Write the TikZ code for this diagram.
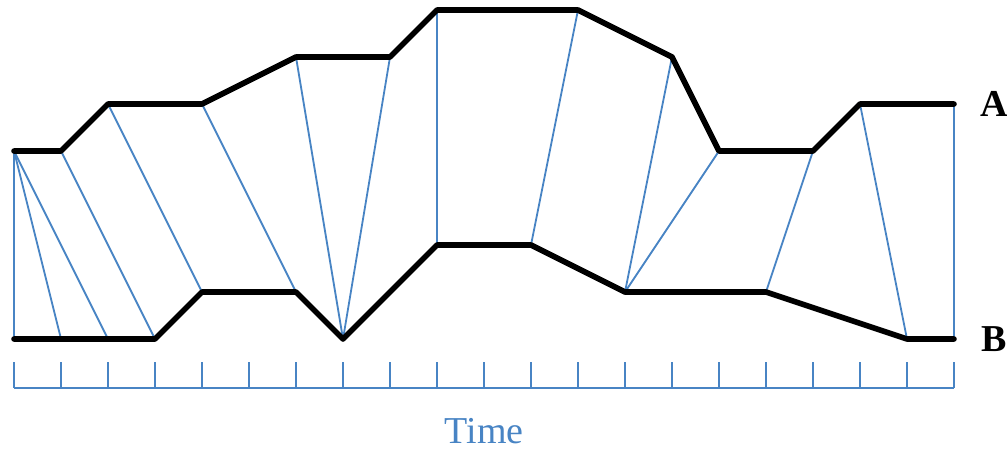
\documentclass[tikz,border=0pt]{standalone}
\usepackage{fontspec}
\setmainfont{Liberation Serif}
\usetikzlibrary{calc}
\definecolor{warpblue}{RGB}{72,132,196}

\begin{document}
\begin{tikzpicture}[x=1cm, y=1cm,
    series/.style={line width=3.4pt, line cap=round, line join=round},
    warp/.style={warpblue, line width=1.1pt},
    lab/.style={font=\bfseries\fontsize{23}{23}\selectfont}]
        \useasboundingbox (-0.298,-2.362) rectangle (21.128,7.213);

        % Points of series A (top) and series B (bottom)
        \foreach \i/\j in {0/4,1/4,2/5,4/5,6/6,8/6,9/7,12/7,14/6,15/4,17/4,18/5,20/5}
            \coordinate (a\i) at (\i,\j);
        \foreach \i/\j in {0/0,1/0,2/0,3/0,4/1,6/1,7/0,9/2,11/2,13/1,16/1,19/0,20/0}
            \coordinate (b\i) at (\i,\j);

        % Warping links between the two series
        \foreach \p/\q in {0/0,0/1,0/2,1/3,2/4,4/6,6/7,8/7,9/9,12/11,14/13,15/13,17/16,18/19,20/20}
            \draw[warp] (a\p) -- (b\q);

        % Series A
        \draw[series] (a0) -- (a1) -- (a2) -- (a4) -- (a6) -- (a8) -- (a9) -- (a12)
            -- (a14) -- (a15) -- (a17) -- (a18) -- (a20);
        % Series B
        \draw[series] (b0) -- (b3) -- (b4) -- (b6) -- (b7) -- (b9) -- (b11) -- (b13)
            -- (b16) -- (b19) -- (b20);

        % Series labels
        \node[lab] (labA) at (20.85,5) {A};
        \node[lab] (labB) at (20.85,0) {B};

        % Time axis with ticks
        \draw[warp] (0,-1.04) -- (20,-1.04);
        \foreach \t in {0,...,20}
            \draw[warp] (\t,-1.04) -- (\t,-0.49);
        \node[text=warpblue, inner sep=0pt, font=\fontsize{23}{23}\selectfont] (timelab) at (10,-1.96) {Time};
    \end{tikzpicture}
\end{document}
